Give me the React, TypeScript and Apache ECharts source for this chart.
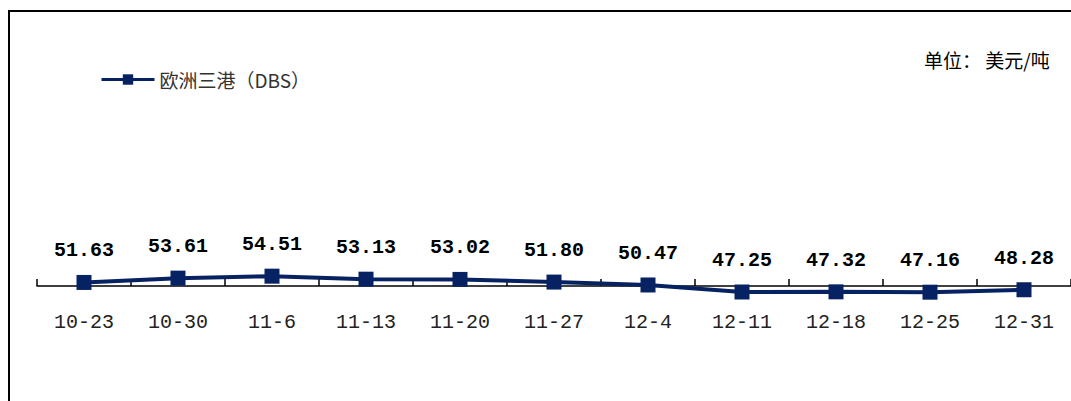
import React, { useEffect, useRef } from "react";
import * as echarts from "echarts";

const categories = ["10-23", "10-30", "11-6", "11-13", "11-20", "11-27", "12-4", "12-11", "12-18", "12-25", "12-31"];
const seriesName = "欧洲三港（DBS）";
const values = [51.63, 53.61, 54.51, 53.13, 53.02, 51.8, 50.47, 47.25, 47.32, 47.16, 48.28];
const unitText = "单位： 美元/吨";

export default function App() {
  const ref = useRef<HTMLDivElement>(null);
  useEffect(() => {
    if (!ref.current) return;
    const chart = echarts.init(ref.current, undefined, { renderer: "svg" });
    const navy = "#062262";
    chart.setOption({
      animation: false,
      backgroundColor: "#ffffff",
      grid: { left: 37, right: 0, top: 177, bottom: 115, containLabel: false },
      legend: {
        show: true,
        left: 100,
        top: 70,
        padding: 0,
        itemWidth: 53,
        itemHeight: 13,
        data: [seriesName],
        lineStyle: { width: 3 },
        textStyle: { fontSize: 19, fontFamily: "Noto Sans CJK SC", color: "#333" },
      },
      xAxis: {
        type: "category",
        data: categories,
        boundaryGap: true,
        axisLine: { show: true, lineStyle: { color: "#000", width: 1.5 } },
        axisTick: { show: true, inside: true, length: 7, lineStyle: { color: "#000", width: 1.5 } },
        axisLabel: { interval: 0, margin: 26, fontSize: 20, fontFamily: "Liberation Mono", color: "#222" },
        splitLine: { show: false },
      },
      yAxis: {
        type: "value",
        min: 50,
        max: 100,
        show: false,
        splitLine: { show: false },
      },
      series: [
        {
          name: seriesName,
          type: "line",
          data: values,
          clip: false,
          symbol: "rect",
          symbolSize: 15,
          lineStyle: { color: navy, width: 4 },
          itemStyle: { color: navy },
          label: {
            show: true,
            position: "top",
            distance: 14,
            fontSize: 20,
            fontWeight: "bold",
            fontFamily: "Liberation Mono",
            color: "#000",
            formatter: (p: any) => Number(p.value).toFixed(2),
          },
        },
      ],
      graphic: [
        {
          type: "rect",
          shape: { x: 9, y: 11, width: 1200, height: 600 },
          style: { fill: "none", stroke: "#000", lineWidth: 2 },
          silent: true,
        },
        {
          type: "text",
          left: 924,
          top: 50,
          style: { text: unitText, fontSize: 19, fontFamily: "Noto Sans CJK SC", fill: "#000" },
        },
      ],
    });
    return () => chart.dispose();
  }, []);
  return (
    <div
      ref={ref}
      style={{ position: "fixed", left: 0, top: 0, width: 1071, height: 401 }}
    />
  );
}
